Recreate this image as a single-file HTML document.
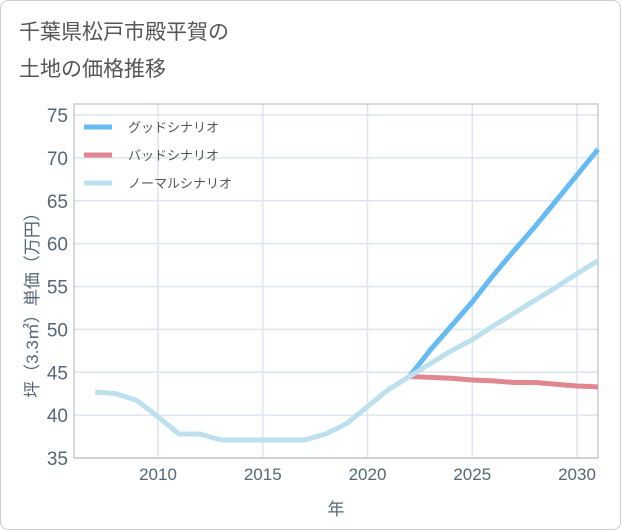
<!DOCTYPE html>
<html><head><meta charset="utf-8"><style>
body{margin:0;background:#fff;}
#wrap{position:relative;width:619px;height:528px;border:1px solid #ccc;border-radius:8px;background:#fff;overflow:hidden;}
svg{position:absolute;left:0;top:0;}
text{font-family:"Liberation Sans","Noto Sans CJK JP",sans-serif;}
</style></head><body>
<div id="wrap">
<svg id="c" width="621" height="530">
<text x="18" y="38" font-size="21" fill="#555">千葉県松戸市殿平賀の</text>
<text x="18" y="75" font-size="21" fill="#555">土地の価格推移</text>
</svg>
</div>
<script>
const years=[2007,2008,2009,2010,2011,2012,2013,2014,2015,2016,2017,2018,2019,2020,2021,2022,2023,2024,2025,2026,2027,2028,2029,2030,2031];
const normal=[42.7,42.5,41.7,39.8,37.8,37.8,37.1,37.1,37.1,37.1,37.1,37.8,39.0,41.0,43.0,44.5,46.0,47.5,48.8,50.4,51.9,53.4,54.9,56.5,58.0];
const goodYears=[2022,2023,2024,2025,2026,2027,2028,2029,2030,2031];
const good=[44.5,47.6,50.4,53.2,56.3,59.2,62.0,65.0,68.0,71.0];
const bad=[44.5,44.4,44.3,44.1,44.0,43.8,43.8,43.6,43.4,43.3];
const yTicks=[35,40,45,50,55,60,65,70,75];
const xTicks=[2010,2015,2020,2025,2030];
const NS='http://www.w3.org/2000/svg';
const svg=document.getElementById('c');
const L=73,R=597,T=103,B=457;
const xs=y=>157+(y-2010)*(576-157)/20;
const ys=v=>457-(v-35)*(457-114)/40;
function mk(t,a){const e=document.createElementNS(NS,t);for(const k in a)e.setAttribute(k,a[k]);svg.appendChild(e);return e;}
for(const v of yTicks){
 const g=mk('line',{x1:L,x2:R,y1:ys(v),y2:ys(v),stroke:'#dde6ee','stroke-width':1.5});
 
 
 const t=mk('text',{x:L-6,y:ys(v)+7,'font-size':19,fill:'#556677','text-anchor':'end'});
 t.textContent=v;
 
 
}
for(const v of xTicks){
 const g=mk('line',{x1:xs(v),x2:xs(v),y1:T,y2:B,stroke:'#dde6ee','stroke-width':1.5});
 
 
 const t=mk('text',{x:xs(v),y:B+22,'font-size':17,fill:'#556677','text-anchor':'middle'});
 t.textContent=v;
 
 
}
const fr=mk('rect',{x:L,y:T,width:R-L,height:B-T,fill:'none',stroke:'#aab4be','stroke-width':1});


function line(xv,yv,col,name){
 const p=mk('polyline',{points:xv.map((x,i)=>xs(x)+','+ys(yv[i])).join(' '),fill:'none',stroke:col,'stroke-width':5,'stroke-linejoin':'round'});
 
 
}
line(goodYears,bad,'#e0878f','bad-scenario-line');
line(goodYears,good,'#66bbf0','good-scenario-line');
line(years,normal,'#bde0ef','normal-scenario-line');
const lg=[['グッドシナリオ','#66bbf0'],['バッドシナリオ','#e0878f'],['ノーマルシナリオ','#bde0ef']];
lg.forEach((d,i)=>{
 const y=126+i*28;
 const s=mk('line',{x1:83,x2:111,y1:y,y2:y,stroke:d[1],'stroke-width':5});
 
 
 const t=mk('text',{x:127,y:y+5,'font-size':13,fill:'#555'});
 t.textContent=d[0];
 
 
});
const xt=mk('text',{x:335,y:514,'font-size':17,fill:'#556677','text-anchor':'middle'});
xt.textContent='年';


const yt=mk('text',{x:0,y:0,'font-size':17,fill:'#556677','text-anchor':'middle',transform:'translate(37,300) rotate(-90)'});
yt.textContent='坪（3.3㎡）単価（万円）';


</script>
</body></html>
